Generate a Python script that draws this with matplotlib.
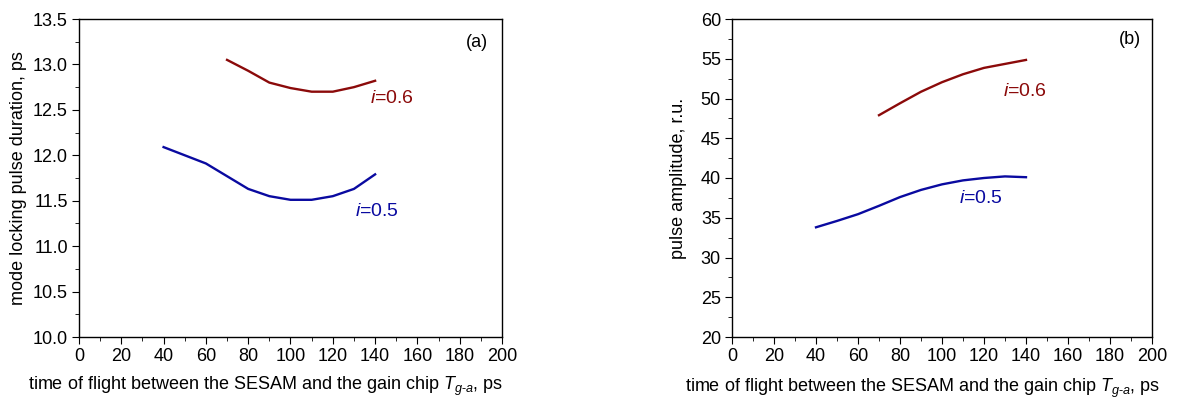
import matplotlib.pyplot as plt
from matplotlib.ticker import MultipleLocator

plt.rcParams['font.family'] = ['Liberation Sans', 'DejaVu Sans']
plt.rcParams['mathtext.fontset'] = 'custom'
plt.rcParams['mathtext.rm'] = 'Liberation Sans'
plt.rcParams['mathtext.it'] = 'Liberation Sans:italic'

# (a) pulse duration
x_dur_06 = [70, 80, 90, 100, 110, 120, 130, 140]
dur_06 = [13.05, 12.93, 12.80, 12.74, 12.70, 12.70, 12.75, 12.82]
x_dur_05 = [40, 50, 60, 70, 80, 90, 100, 110, 120, 130, 140]
dur_05 = [12.09, 12.00, 11.91, 11.77, 11.63, 11.55, 11.51, 11.51, 11.55, 11.63, 11.79]

# (b) pulse amplitude
x_amp_06 = [70, 80, 90, 100, 110, 120, 130, 140]
amp_06 = [47.9, 49.4, 50.85, 52.05, 53.05, 53.85, 54.35, 54.85]
x_amp_05 = [40, 50, 60, 70, 80, 90, 100, 110, 120, 130, 140]
amp_05 = [33.8, 34.6, 35.45, 36.5, 37.6, 38.5, 39.2, 39.7, 40.0, 40.2, 40.1]

red = '#8b0a0a'
blue = '#0a0aa0'
xlabel = 'time of flight between the SESAM and the gain chip $T_{g\\text{-}a}$, ps'

fig = plt.figure(figsize=(11.93, 4.0), dpi=100)
ax1 = fig.add_axes([0.0662, 0.1575, 0.3546, 0.795])
ax2 = fig.add_axes([0.6136, 0.1575, 0.352, 0.795])

ax1.plot(x_dur_06, dur_06, color=red, lw=1.7)
ax1.plot(x_dur_05, dur_05, color=blue, lw=1.7)
ax1.text(137.5, 12.63, '$i$=0.6', color=red, fontsize=14, va='center')
ax1.text(130.5, 11.38, '$i$=0.5', color=blue, fontsize=14, va='center')
ax1.text(0.94, 0.925, '(a)', transform=ax1.transAxes, fontsize=13, ha='center', va='center')
ax1.set_ylim(10.0, 13.5)
ax1.yaxis.set_major_locator(MultipleLocator(0.5))
ax1.yaxis.set_minor_locator(MultipleLocator(0.25))
ax1.yaxis.set_major_formatter(plt.FormatStrFormatter('%.1f'))
ax1.set_ylabel('mode locking pulse duration, ps', fontsize=13, labelpad=4)

ax2.plot(x_amp_06, amp_06, color=red, lw=1.7)
ax2.plot(x_amp_05, amp_05, color=blue, lw=1.7)
ax2.text(129, 50.9, '$i$=0.6', color=red, fontsize=14, va='center')
ax2.text(108, 37.4, '$i$=0.5', color=blue, fontsize=14, va='center')
ax2.text(0.948, 0.937, '(b)', transform=ax2.transAxes, fontsize=13, ha='center', va='center')
ax2.set_ylim(20, 60)
ax2.yaxis.set_major_locator(MultipleLocator(5))
ax2.yaxis.set_minor_locator(MultipleLocator(2.5))
ax2.set_ylabel('pulse amplitude, r.u.', fontsize=13, labelpad=10)

for ax in (ax1, ax2):
    ax.set_xlim(0, 200)
    ax.xaxis.set_major_locator(MultipleLocator(20))
    ax.xaxis.set_minor_locator(MultipleLocator(10))
    ax.tick_params(which='both', direction='out', top=False, right=False, labelsize=13, pad=3)
    ax.tick_params(which='major', length=5)
    ax.tick_params(which='minor', length=3)
    for s in ax.spines.values():
        s.set_linewidth(1.0)

ax1.set_xlabel(xlabel, fontsize=13)
ax1.xaxis.set_label_coords(0.442, -0.12)
ax2.set_xlabel(xlabel, fontsize=13)
ax2.xaxis.set_label_coords(0.455, -0.126)

fig.savefig('out.png', dpi=100)
